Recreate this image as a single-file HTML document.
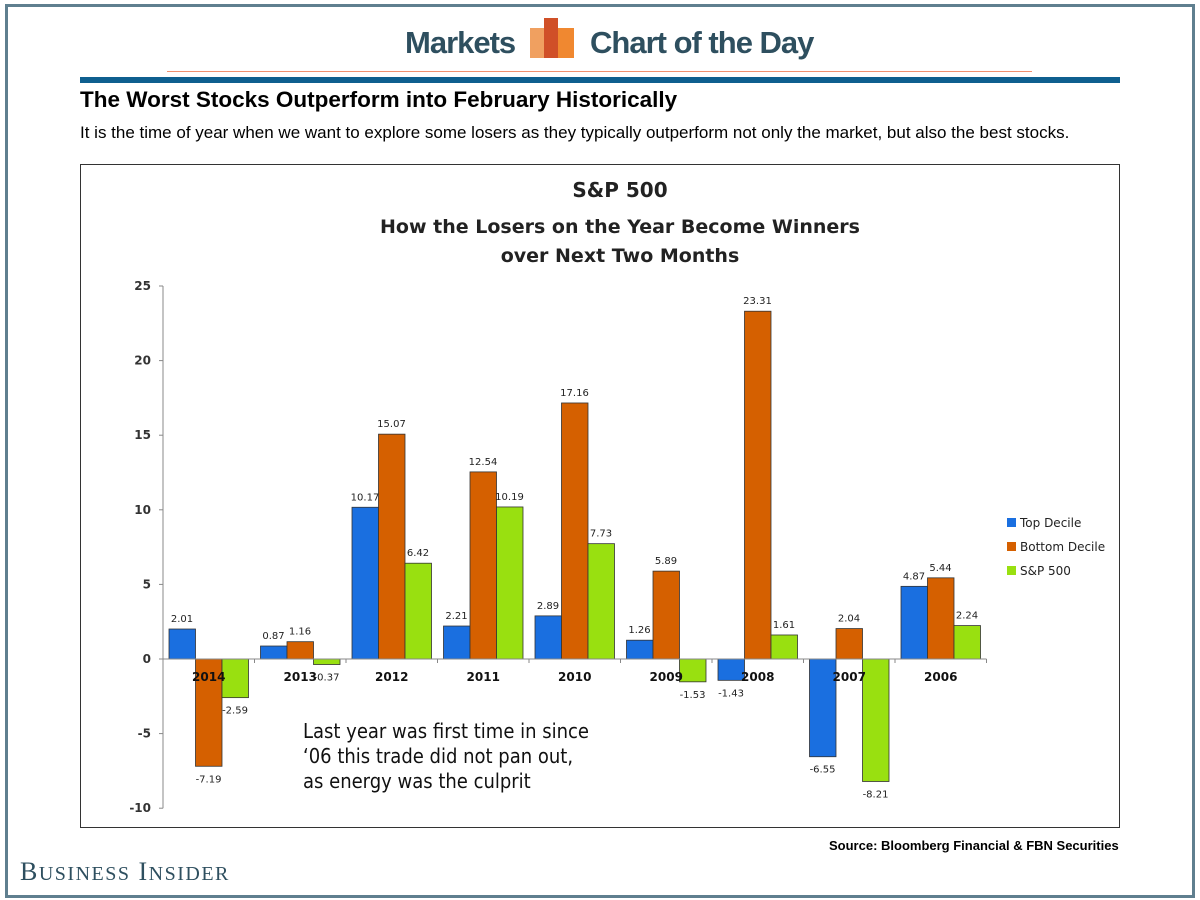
<!DOCTYPE html>
<html><head><meta charset="utf-8"><style>
body{margin:0;width:1200px;height:900px;background:#fff;position:relative;overflow:hidden;font-family:"Liberation Sans",sans-serif}
.abs{position:absolute}
</style></head><body>
<div class="abs" style="left:5px;top:4px;width:1184px;height:888px;border:3px solid #5f7f8f"></div>
<div class="abs" style="left:405px;top:25px;font:bold 31px 'Liberation Sans',sans-serif;color:#2e4f5f;letter-spacing:-1px">Markets</div>
<svg class="abs" style="left:530px;top:16px" width="45" height="44"><rect x="0" y="12" width="20" height="30" fill="#f0a060"/><rect x="14" y="2" width="14" height="40" fill="#d05028"/><rect x="28" y="12" width="16" height="30" fill="#f08830"/></svg>
<div class="abs" style="left:590px;top:25px;font:bold 31px 'Liberation Sans',sans-serif;color:#2e4f5f;letter-spacing:-1px">Chart of the Day</div>
<div class="abs" style="left:167px;top:71px;width:865px;height:1px;background:#f09070"></div>
<div class="abs" style="left:80px;top:77px;width:1040px;height:6px;background:#0e5f8f"></div>
<div class="abs" style="left:80px;top:87px;font:bold 22.5px 'Liberation Sans',sans-serif;color:#000">The Worst Stocks Outperform into February Historically</div>
<div class="abs" style="left:80px;top:123px;font:17px 'Liberation Sans',sans-serif;color:#000;white-space:nowrap">It is the time of year when we want to explore some losers as they typically outperform not only the market, but also the best stocks.</div>
<div class="abs" style="left:80px;top:164px;width:1038px;height:662px;border:1px solid #333"></div>
<svg class="abs" id="chart" style="left:0;top:0" width="1200" height="900"></svg>
<div class="abs" style="left:829px;top:838px;font:bold 13px 'Liberation Sans',sans-serif;color:#000;white-space:nowrap">Source: Bloomberg Financial &amp; FBN Securities</div>
<div class="abs" style="left:20px;top:857px;font:26px 'Liberation Serif',serif;color:#2e4f5f;letter-spacing:1.5px;white-space:nowrap">B<span style="font-size:20px">USINESS</span> I<span style="font-size:20px">NSIDER</span></div>
<script>
const categories=["2014","2013","2012","2011","2010","2009","2008","2007","2006"];
const topDecile=[2.01,0.87,10.17,2.21,2.89,1.26,-1.43,-6.55,4.87];
const bottomDecile=[-7.19,1.16,15.07,12.54,17.16,5.89,23.31,2.04,5.44];
const sp500=[-2.59,-0.37,6.42,10.19,7.73,-1.53,1.61,-8.21,2.24];
const yTicks=[25,20,15,10,5,0,-5,-10];
const seriesNames=["Top Decile","Bottom Decile","S&P 500"];
const colors=["#1a6fe0","#d56000","#99e010"];
const NS="http://www.w3.org/2000/svg";
const svg=document.getElementById('chart');
const y=v=>659-v*14.92;
const x0=163,gw=91.5;
function mk(t,a,txt){const e=document.createElementNS(NS,t);for(const k in a)e.setAttribute(k,a[k]);if(txt!==undefined)e.textContent=txt;svg.appendChild(e);return e;}
let e;
e=mk('text',{x:620,y:197,'text-anchor':'middle','font-family':'DejaVu Sans,sans-serif','font-size':20,'font-weight':'bold',fill:'#222'},'S&P 500');

e=mk('text',{x:620,y:233,'text-anchor':'middle','font-family':'DejaVu Sans,sans-serif','font-size':19,'font-weight':'bold',fill:'#222'},'How the Losers on the Year Become Winners');

e=mk('text',{x:620,y:262,'text-anchor':'middle','font-family':'DejaVu Sans,sans-serif','font-size':19,'font-weight':'bold',fill:'#222'},'over Next Two Months');

e=mk('line',{x1:x0,y1:y(25),x2:x0,y2:y(-10),stroke:'#888'});

yTicks.forEach(t=>{
 e=mk('line',{x1:x0-4,y1:y(t),x2:x0,y2:y(t),stroke:'#888'});
 
 e=mk('text',{x:x0-12,y:y(t)+4,'text-anchor':'end','font-size':12,'font-weight':'bold','font-family':'DejaVu Sans,sans-serif',fill:'#333'},t);
 
});
const series=[topDecile,bottomDecile,sp500];
categories.forEach((c,i)=>{
 const gx=x0+i*gw;
 series.forEach((s,j)=>{
  const v=s[i],bx=gx+6+j*26.5,top=Math.min(y(v),y(0)),h=Math.abs(y(v)-y(0));
  e=mk('rect',{x:bx,y:top,width:26.5,height:Math.max(h,1),fill:colors[j],stroke:'#333','stroke-width':0.8});
  
  const ly=v>=0?y(v)-7:y(v)+16;
  e=mk('text',{x:bx+13,y:ly,'text-anchor':'middle','font-size':10,'font-family':'DejaVu Sans,sans-serif',fill:'#222'},v.toFixed(2));
  
 });
 e=mk('text',{x:gx+gw/2,y:681,'text-anchor':'middle','font-size':12,'font-weight':'bold','font-family':'DejaVu Sans,sans-serif',fill:'#111'},c);
 
 e=mk('line',{x1:gx+gw,y1:y(0),x2:gx+gw,y2:y(0)+4,stroke:'#888'});
 
});
e=mk('line',{x1:x0,y1:y(0),x2:x0+9*gw,y2:y(0),stroke:'#888'});

seriesNames.forEach((n,j)=>{
 e=mk('rect',{x:1007,y:518+j*24,width:9,height:9,fill:colors[j]});
 
 e=mk('text',{x:1020,y:527+j*24,'font-size':12,'font-family':'DejaVu Sans,sans-serif',fill:'#222'},n);
 
});
["Last year was first time in since","‘06 this trade did not pan out,","as energy was the culprit"].forEach((t,k)=>{
 e=mk('text',{x:303,y:738+k*25,'font-size':20,'font-family':'DejaVu Sans Condensed,DejaVu Sans,sans-serif',fill:'#111'},t);
 
});
</script>
</body></html>
